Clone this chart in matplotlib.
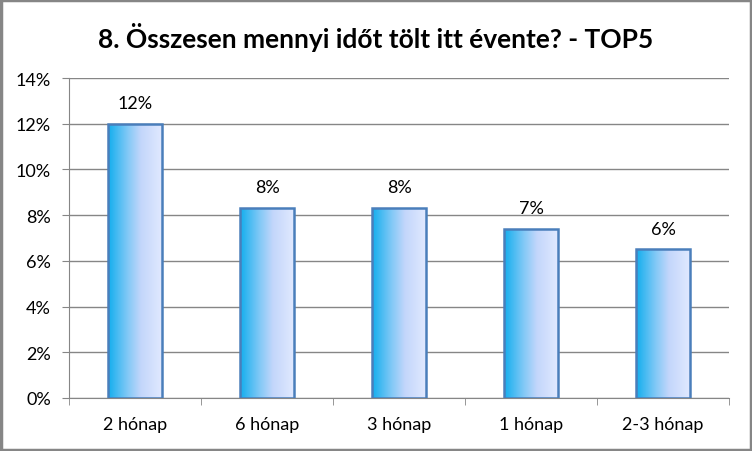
import matplotlib
matplotlib.use("Agg")
import matplotlib.pyplot as plt
import numpy as np
from matplotlib.colors import LinearSegmentedColormap
from matplotlib.patches import Rectangle

categories = ["2 hónap", "6 hónap", "3 hónap", "1 hónap", "2-3 hónap"]
values = [12.0, 8.3, 8.3, 7.4, 6.5]
value_labels = ["12%", "8%", "8%", "7%", "6%"]
yticks = [0, 2, 4, 6, 8, 10, 12, 14]
title = "8. Összesen mennyi időt tölt itt évente? - TOP5"

plt.rcParams['font.family'] = ['Lato', 'DejaVu Sans']

fig = plt.figure(figsize=(7.52, 4.52), dpi=100)
ax = fig.add_axes([69/752, 53/452, 660/752, 320/452])

cmap = LinearSegmentedColormap.from_list(
    "barg", [(0.0, "#12AEEE"), (0.35, "#7FC8F6"), (0.6, "#C3D6FB"), (1.0, "#E2EAFF")])
grad = np.linspace(0, 1, 256).reshape(1, -1)

x = np.arange(len(categories))
bars = ax.bar(x, values, width=0.41, color="none", edgecolor="#4A7EBB", linewidth=1.8, zorder=3)
for b in bars:
    x0, y0 = b.get_x(), b.get_y()
    w, h = b.get_width(), b.get_height()
    im = ax.imshow(grad, cmap=cmap, aspect="auto", extent=[x0, x0 + w, y0, y0 + h],
                   zorder=2.5, interpolation="bicubic")
    im.set_clip_path(b)

for xi, v, lab in zip(x, values, value_labels):
    ax.annotate(lab, (xi, v), xytext=(0, 15), textcoords="offset points",
                ha="center", va="center", fontsize=13, color="#000000")

ax.set_xlim(-0.5, len(categories) - 0.5)
ax.set_ylim(0, 14)
ax.set_yticks(yticks)
ax.set_yticklabels([f"{t}%" for t in yticks], fontsize=13)
ax.set_xticks(x)
ax.set_xticklabels(categories, fontsize=13)
ax.set_xticks(np.arange(len(categories) + 1) - 0.5, minor=True)
ax.tick_params(axis="x", which="major", length=0, pad=13)
ax.tick_params(axis="x", which="minor", length=5, color="#868686", direction="out")
ax.tick_params(axis="y", length=5, color="#868686", direction="out", pad=8)

ax.yaxis.grid(True, color="#868686", linewidth=1)
ax.set_axisbelow(True)
for s in ["top", "right"]:
    ax.spines[s].set_visible(False)
for s in ["left", "bottom"]:
    ax.spines[s].set_color("#868686")
ax.set_xlim(-0.5, len(categories) - 0.5)

fig.text(0.5, 1 - 38/452, title, ha="center", va="center", fontsize=19, fontweight="bold")

fig.patches.append(Rectangle((0.0015, 0.0025), 0.997, 0.995, transform=fig.transFigure,
                             fill=False, edgecolor="#868686", linewidth=2.5))

fig.savefig("out.png", dpi=100)
